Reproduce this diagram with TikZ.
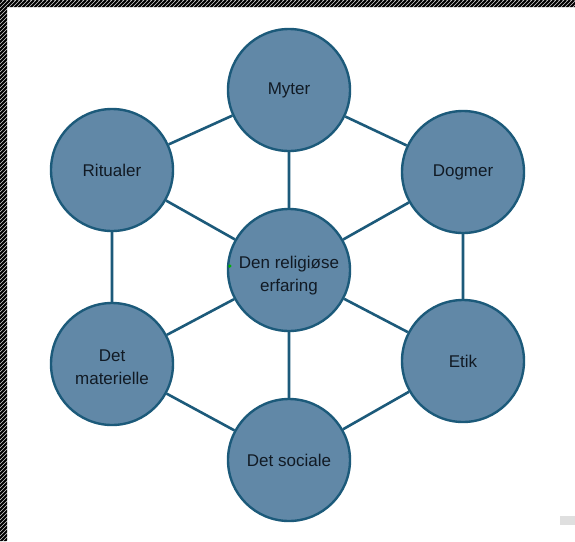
\documentclass[tikz,border=0pt]{standalone}
\usepackage{fontspec}
\setmainfont{Liberation Sans}
\begin{document}
\begin{tikzpicture}[x=1pt,y=-1pt,
  bubble/.style={circle,draw=edgeC,fill=fillC,line width=2.4pt,minimum size=122pt,inner sep=0pt,align=center,font=\fontsize{17}{23}\selectfont,text=txtC},
  label text/.style={align=center,font=\fontsize{17}{23}\selectfont,text=txtC,inner sep=0pt},
  link/.style={draw=edgeC,line width=2.6pt}]
\definecolor{edgeC}{HTML}{1C5A7A}
\definecolor{fillC}{HTML}{6188A7}
\definecolor{txtC}{HTML}{111A24}
\useasboundingbox (0,0) rectangle (575,541);
\fill[white] (0,0) rectangle (575,541);
% hatched frame
\begin{scope}
\clip (0,0) rectangle (575,7) (0,0) rectangle (7,541);
\fill[gray!40] (0,0) rectangle (575,541);
\foreach \i in {-600,-596,...,600} {
  \draw[black,line width=1.8pt] (\i,550) -- (\i+550,0);
}
\end{scope}
\fill[gray!25] (560,516) rectangle (575,525);
% nodes
\node[bubble] (myt) at (289,90) {Myter};
\node[bubble] (rit) at (112,170) {Ritualer};
\node[bubble] (dog) at (463,172) {Dogmer};
\node[bubble] (mid) at (289,270) {};
\node[label text] (midtxt) at ([yshift=-6pt]mid.center) {Den religiøse\\erfaring};
\node[bubble] (mat) at (112,364) {};
\node[label text] (mattxt) at ([yshift=-3pt]mat.center) {Det\\materielle};
\node[bubble] (eti) at (463,361) {Etik};
\node[bubble] (soc) at (289,460) {Det sociale};
% connectors
\path[link] (myt) -- (dog) (dog) -- (eti) (eti) -- (soc) (soc) -- (mat) (mat) -- (rit) (rit) -- (myt)
  (mid) -- (myt) (mid) -- (dog) (mid) -- (eti) (mid) -- (soc) (mid) -- (mat) (mid) -- (rit);
\fill[green!70!black] (mid.west) ++(3,-4) circle (1.8pt);
\end{tikzpicture}
\end{document}
